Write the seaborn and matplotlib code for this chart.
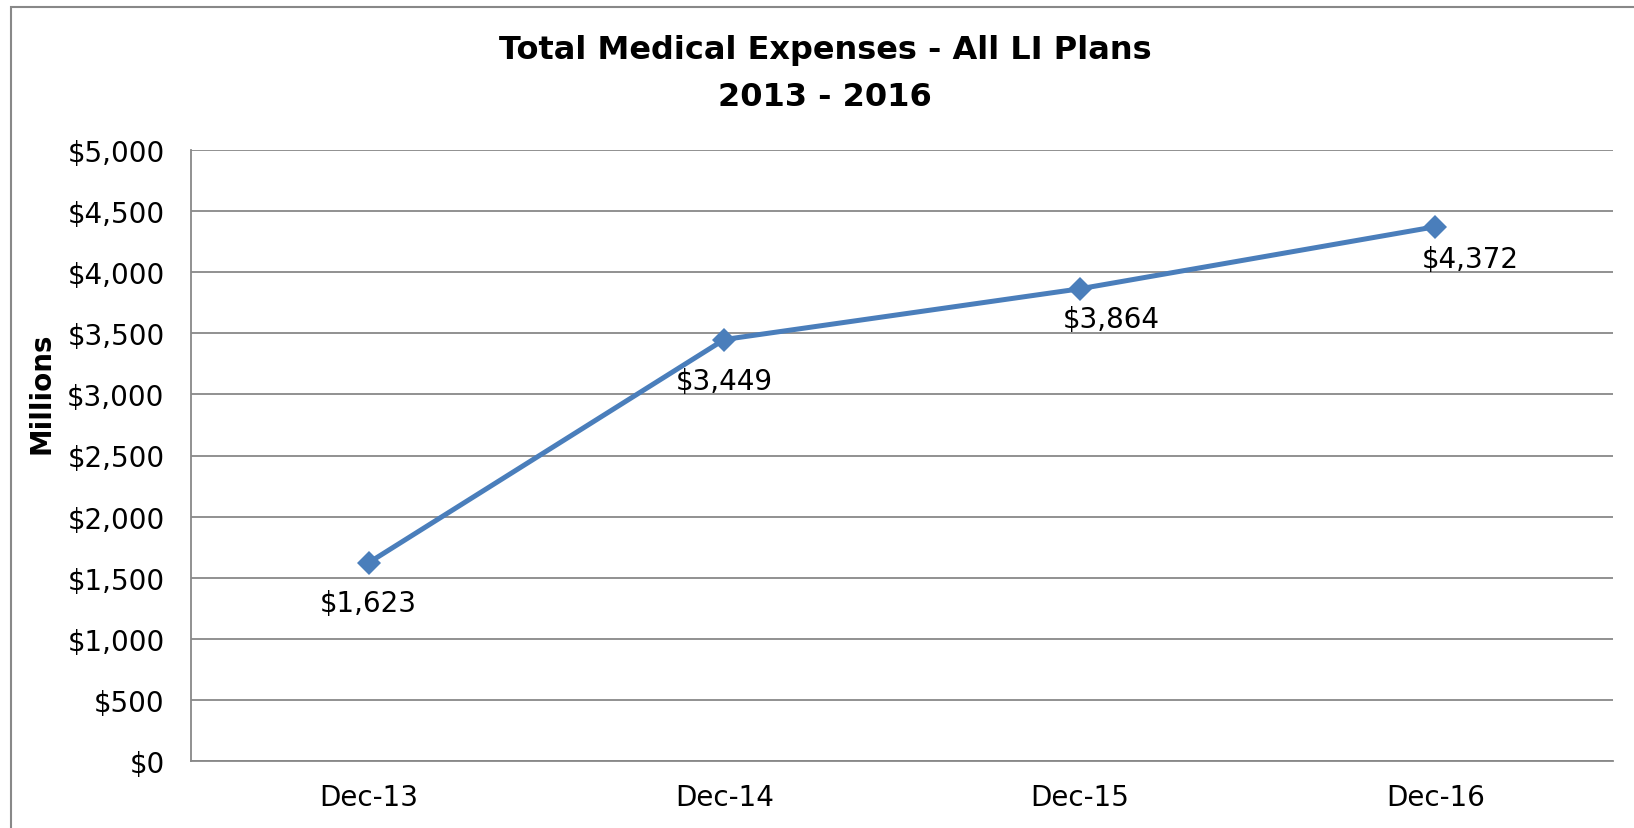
import matplotlib
matplotlib.use("Agg")
import matplotlib.pyplot as plt
import seaborn as sns
import pandas as pd
from matplotlib.patches import Rectangle
from matplotlib.ticker import FuncFormatter, MultipleLocator

# Data (millions of dollars)
periods = ["Dec-13", "Dec-14", "Dec-15", "Dec-16"]
expenses = [1623, 3449, 3864, 4372]

title_line1 = "Total Medical Expenses - All LI Plans"
title_line2 = "2013 - 2016"
y_label = "Millions"

# Label offsets (points) to mimic the hand-placed Excel data labels
label_offsets = [(0, -29), (0, -29.5), (23, -21.5), (25, -23.5)]

LINE_COLOR = "#4A7EBB"
GRID_COLOR = "#888888"

sns.set_style("white")
plt.rcParams["font.family"] = ["DejaVu Sans"]
plt.rcParams["text.color"] = "black"

W, H = 1634, 829
fig = plt.figure(figsize=(W / 100, H / 100), dpi=100)
ax = fig.add_axes([191 / W, 1 - 762 / H, (1613 - 191) / W, (762 - 151) / H])

df = pd.DataFrame({"period": periods, "expenses": expenses})
sns.lineplot(
    data=df,
    x="period",
    y="expenses",
    ax=ax,
    color=LINE_COLOR,
    linewidth=3.6,
    marker="D",
    markersize=12.5,
    markeredgewidth=0,
    sort=False,
)

ax.set_xlim(-0.5, len(periods) - 0.5)
ax.set_ylim(0, 5000)
ax.yaxis.set_major_locator(MultipleLocator(500))
ax.yaxis.set_major_formatter(FuncFormatter(lambda v, p: f"${v:,.0f}"))

# gridlines and axis lines
ax.grid(axis="y", color=GRID_COLOR, linewidth=1.3)
ax.grid(axis="x", visible=False)
ax.set_axisbelow(True)
for side in ["top", "right"]:
    ax.spines[side].set_visible(False)
for side in ["left", "bottom"]:
    ax.spines[side].set_color(GRID_COLOR)
    ax.spines[side].set_linewidth(1.3)

ax.tick_params(axis="y", length=0, pad=19, labelsize=20, labelcolor="black")
ax.tick_params(axis="x", length=0, pad=16, labelsize=20, labelcolor="black")
ax.set_xlabel("")
ax.set_ylabel("")

# data labels
for i, (val, off) in enumerate(zip(expenses, label_offsets)):
    ax.annotate(
        f"${val:,}",
        xy=(i, val),
        xytext=off,
        textcoords="offset points",
        ha="center",
        va="center",
        fontsize=20,
        color="black",
    )

# titles and axis label placed in chart coordinates
fig.text(825 / W, 1 - 50 / H, title_line1, ha="center", va="center",
         fontsize=23, fontweight="bold", color="black")
fig.text(825 / W, 1 - 97 / H, title_line2, ha="center", va="center",
         fontsize=23, fontweight="bold", color="black")
fig.text(42 / W, 1 - 393 / H, y_label, ha="center", va="center",
         rotation=90, fontsize=20, fontweight="bold", color="black")

# outer chart border (runs past the bottom and right edges)
fig.patches.append(
    Rectangle(
        (10.5 / W, -0.05),
        1.2,
        1.05 - 7.5 / H,
        transform=fig.transFigure,
        fill=False,
        edgecolor=GRID_COLOR,
        linewidth=1.5,
    )
)

fig.savefig("out.png", dpi=100)
